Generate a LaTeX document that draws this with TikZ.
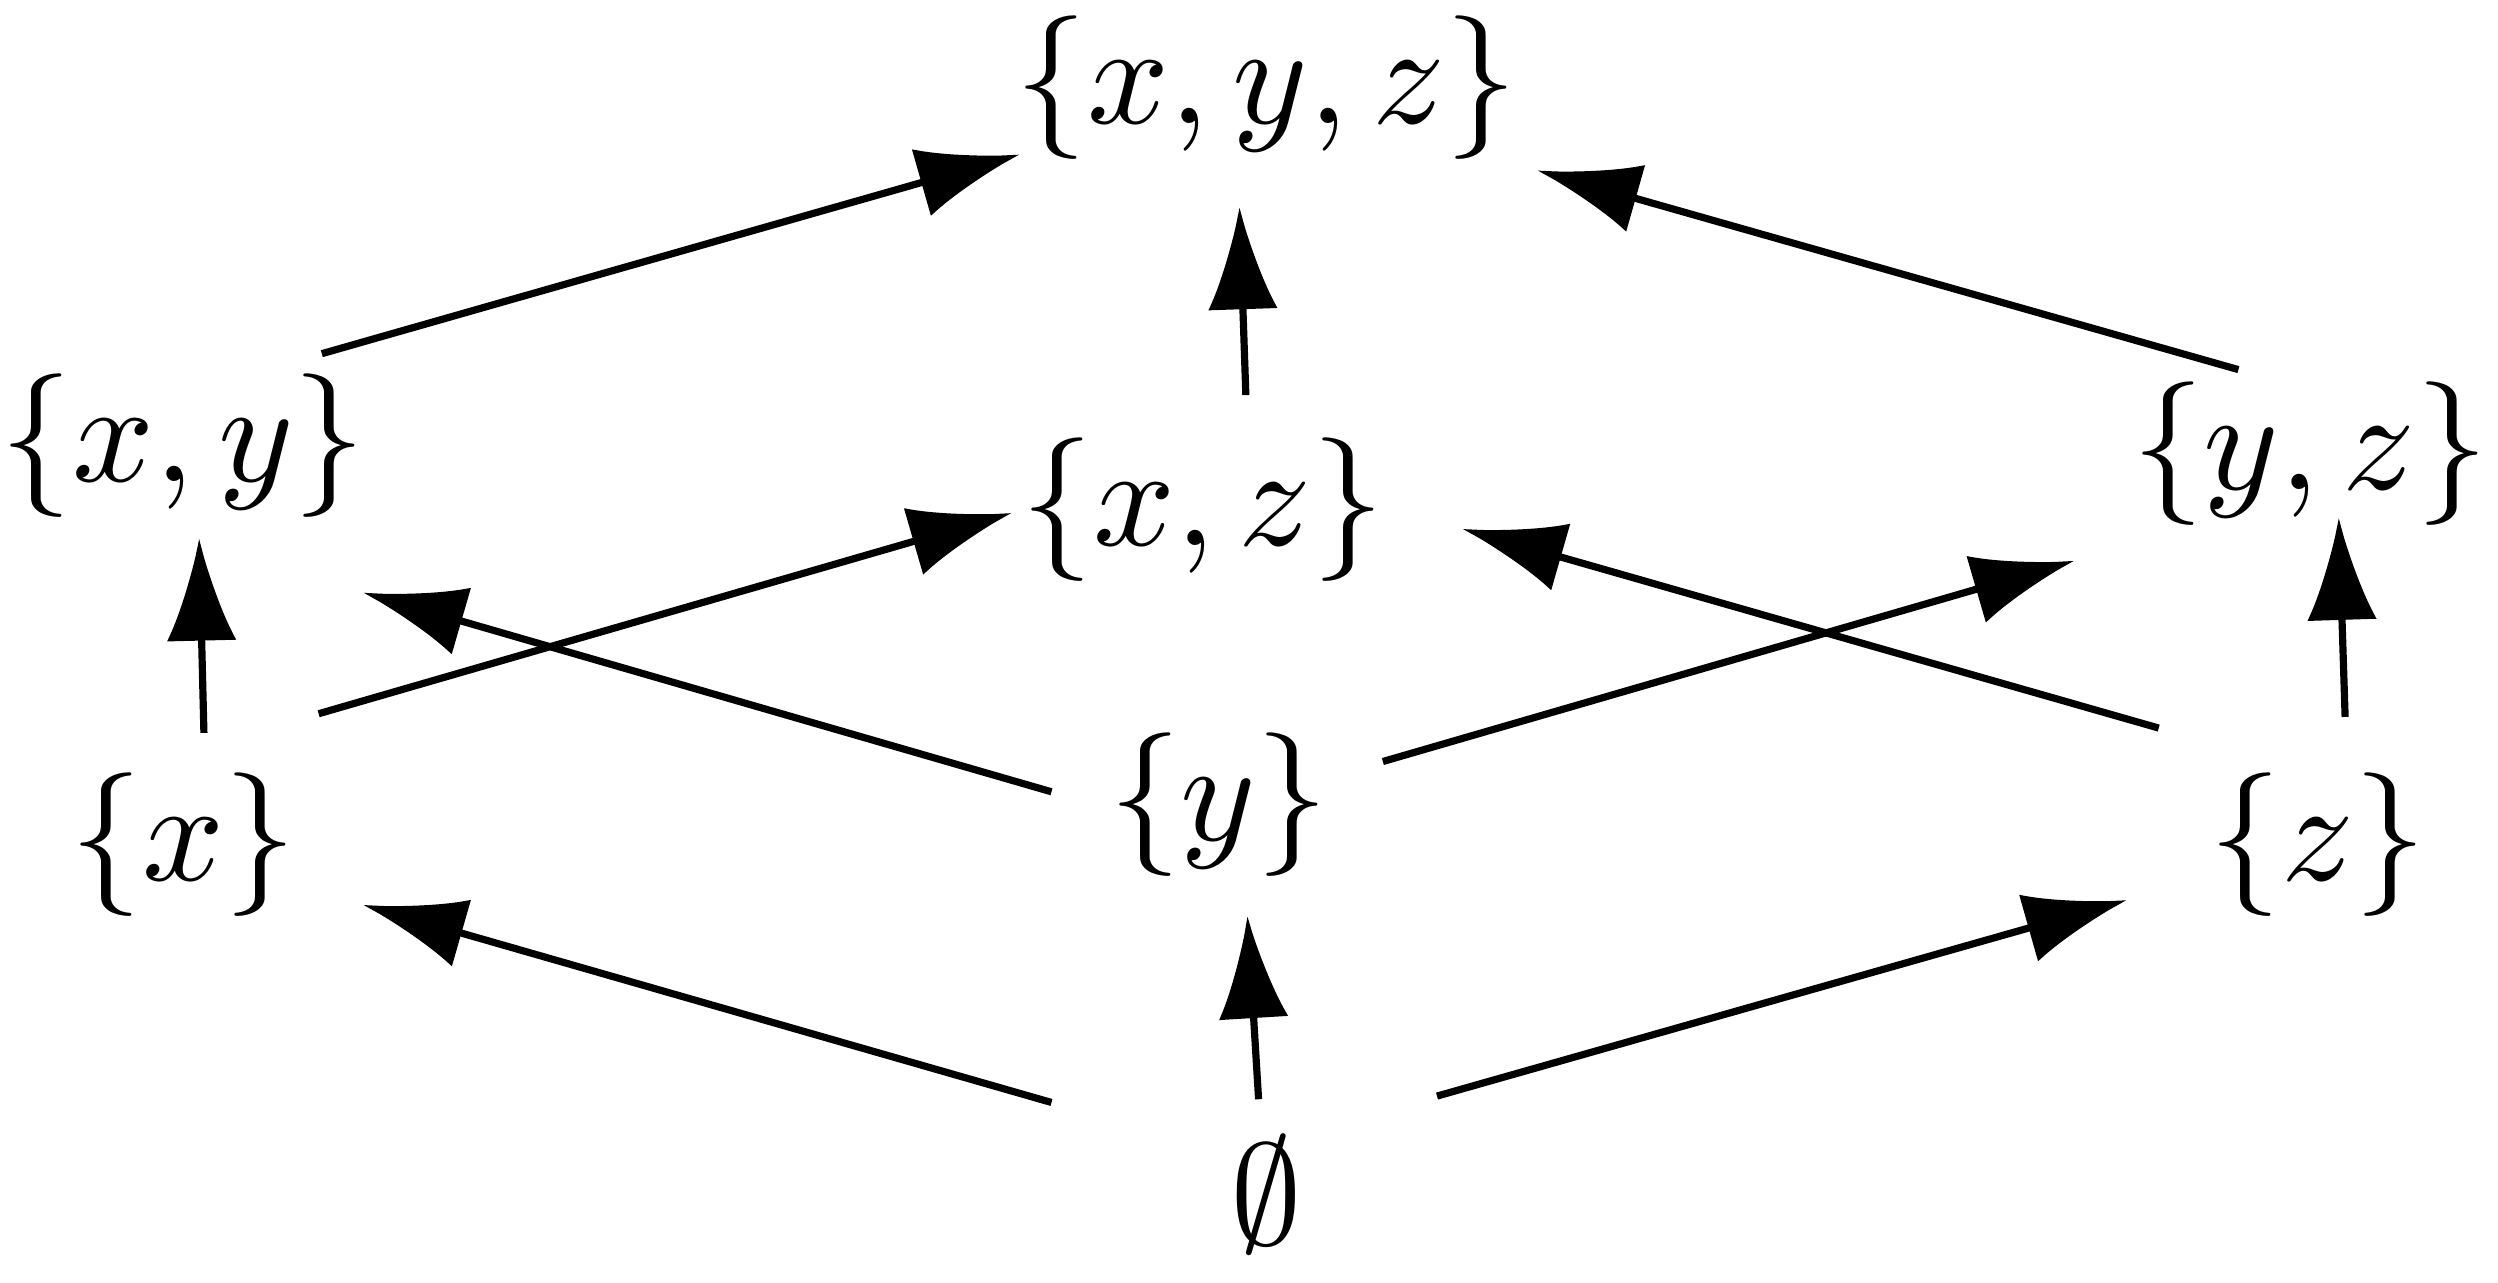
\documentclass[tikz,border=0pt]{standalone}
\usetikzlibrary{arrows.meta,calc}
\begin{document}
\begin{tikzpicture}[x=0.39cm,y=0.39cm,
  arr/.style={-{Latex[length=2.5mm,width=1.7mm]},line width=0.5pt}]
  \useasboundingbox (0,0) rectangle (15.68,-8.047);
  \node (xyz) at (7.95,-0.55) {$\{x,y,z\}$};
  \node (xy) at (1.15,-2.80) {$\{x,y\}$};
  \node (xz) at (7.55,-3.20) {$\{x,z\}$};
  \node (yz) at (14.50,-2.85) {$\{y,z\}$};
  \node (x) at (1.15,-5.30) {$\{x\}$};
  \node (y) at (7.65,-5.05) {$\{y\}$};
  \node (z) at (14.55,-5.30) {$\{z\}$};
  \node (e) at (7.95,-7.50) {$\emptyset$};
  \draw[arr] ($(e)+(-1.35,0.58)$) -- ($(x)+(1.13,-0.38)$);
  \draw[arr] ($(e)+(-0.05,0.60)$) -- ($(y)+(0.18,-0.70)$);
  \draw[arr] ($(e)+(1.07,0.62)$) -- ($(z)+(-1.20,-0.35)$);
  \draw[arr] ($(x)+(0.13,0.70)$) -- ($(xy)+(0.10,-0.58)$);
  \draw[arr] ($(x)+(0.85,0.82)$) -- ($(xz)+(-1.20,-0.02)$);
  \draw[arr] ($(y)+(-1.05,0.08)$) -- ($(xy)+(1.13,-0.92)$);
  \draw[arr] ($(y)+(1.03,0.27)$) -- ($(yz)+(-1.48,-0.67)$);
  \draw[arr] ($(z)+(-1.00,0.73)$) -- ($(xz)+(1.63,-0.12)$);
  \draw[arr] ($(z)+(0.17,0.80)$) -- ($(yz)+(0.18,-0.40)$);
  \draw[arr] ($(xy)+(0.87,0.58)$) -- ($(xyz)+(-1.55,-0.42)$);
  \draw[arr] ($(xz)+(0.27,0.72)$) -- ($(xyz)+(-0.17,-0.75)$);
  \draw[arr] ($(yz)+(-0.45,0.53)$) -- ($(xyz)+(1.70,-0.52)$);
\end{tikzpicture}
\end{document}
